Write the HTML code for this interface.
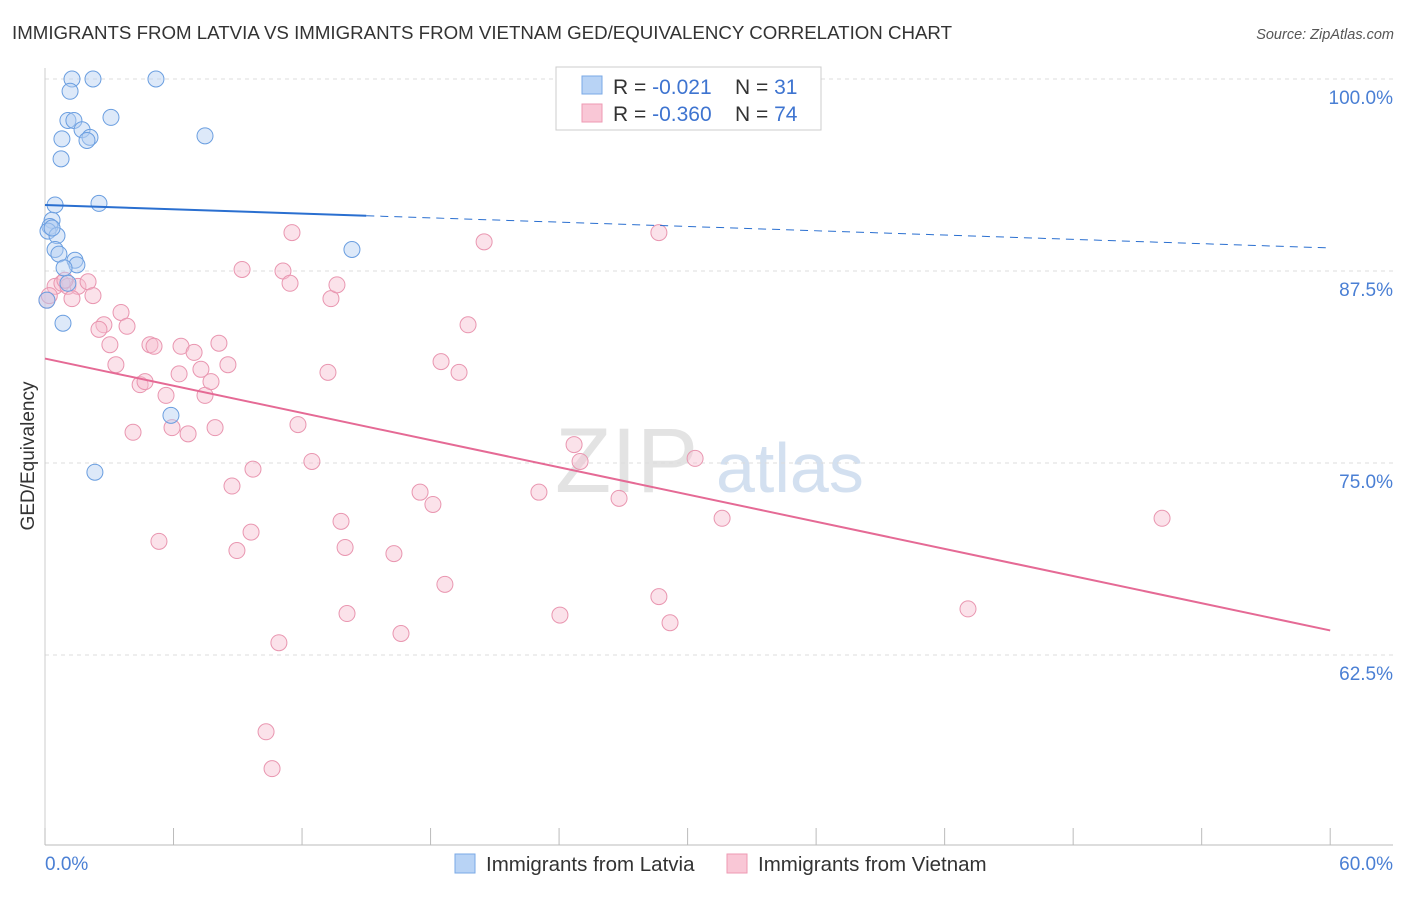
<!DOCTYPE html>
<html><head><meta charset="utf-8"><style>
body{margin:0;background:#fff;font-family:"Liberation Sans",sans-serif;}
svg text{font-family:"Liberation Sans",sans-serif;}
</style></head><body>
<svg id="chart" width="1406" height="892" xmlns="http://www.w3.org/2000/svg">
<text x="12" y="39" font-size="18.7" fill="#333">IMMIGRANTS FROM LATVIA VS IMMIGRANTS FROM VIETNAM GED/EQUIVALENCY CORRELATION CHART</text>
<text x="1394" y="39" font-size="14.5" fill="#555" text-anchor="end" font-style="italic">Source: ZipAtlas.com</text>
<text transform="translate(34,456) rotate(-90)" font-size="19" fill="#333" text-anchor="middle">GED/Equivalency</text>
<g>
<text x="555" y="492" font-size="92" fill="#e3e3e3" font-family="Liberation Serif">ZIP</text>
<text x="716" y="492" font-size="70" fill="#d3e0f0">atlas</text>
</g>
<g id="grid"></g>
<g id="yticks"></g>
<line x1="45" y1="845" x2="1393" y2="845" stroke="#bbb" stroke-width="1"/>
<line x1="45" y1="68" x2="45" y2="845" stroke="#ccc" stroke-width="1"/>
<g id="xticks"></g>
<text x="45" y="870" font-size="19" fill="#4a7fd4">0.0%</text>
<text x="1393" y="870" font-size="19" fill="#4a7fd4" text-anchor="end">60.0%</text>
<g id="points"></g>
<g id="trends"></g>
<g>
<rect x="556" y="67" width="265" height="63" fill="#fff" stroke="#ccc"/>
<rect x="582" y="76" width="20" height="18" fill="#b8d3f5" stroke="#7aa8e6"/>
<rect x="582" y="104" width="20" height="18" fill="#f9c7d6" stroke="#ee9ab3"/>
<text x="613" y="94" font-size="21" fill="#333">R = <tspan fill="#3e74d0">-0.021</tspan></text>
<text x="735" y="94" font-size="21" fill="#333">N = <tspan fill="#3e74d0"> 31</tspan></text>
<text x="613" y="121" font-size="21" fill="#333">R = <tspan fill="#3e74d0">-0.360</tspan></text>
<text x="735" y="121" font-size="21" fill="#333">N = <tspan fill="#3e74d0">74</tspan></text>
</g>
<g>
<rect x="455" y="854" width="20" height="19" fill="#b8d3f5" stroke="#7aa8e6"/>
<text x="486" y="871" font-size="20.5" fill="#333">Immigrants from Latvia</text>
<rect x="727" y="854" width="20" height="19" fill="#f9c7d6" stroke="#ee9ab3"/>
<text x="758" y="871" font-size="20.5" fill="#333">Immigrants from Vietnam</text>
</g>
</svg>
<script>
const latviaX=[1.26,2.24,5.18,1.17,3.08,1.07,1.35,1.73,0.79,2.10,1.96,7.47,0.75,0.47,2.52,0.33,0.23,0.14,0.56,0.47,0.65,14.33,1.40,1.49,0.89,1.07,0.84,5.88,2.33,0.09,0.33];
const latviaY=[100,100,100,99.2,97.5,97.3,97.3,96.7,96.1,96.2,96.0,96.3,94.8,91.8,91.9,90.8,90.4,90.1,89.8,88.9,88.6,88.9,88.2,87.9,87.7,86.7,84.1,78.1,74.4,85.6,90.3];
const vietX=[0.47,0.79,1.07,1.54,2.01,0.93,1.26,2.24,0.09,2.75,2.52,3.55,3.83,3.03,3.31,4.90,5.09,6.35,6.96,8.12,8.54,4.44,4.67,5.65,6.26,7.28,7.47,7.75,4.11,5.93,6.68,7.94,8.73,9.71,5.32,8.96,9.62,10.32,10.60,10.92,11.53,11.11,11.44,11.81,12.46,13.21,13.35,13.63,13.82,14.01,14.10,16.29,16.62,17.51,18.11,18.49,18.67,19.33,19.75,20.50,23.06,24.04,24.70,24.98,26.80,28.66,28.66,29.18,30.35,31.61,43.09,52.15,9.20,0.2];
const vietY=[86.5,86.7,86.5,86.5,86.8,86.9,85.7,85.9,85.6,84.0,83.7,84.8,83.9,82.7,81.4,82.7,82.6,82.6,82.2,82.8,81.4,80.1,80.3,79.4,80.8,81.1,79.4,80.3,77.0,77.3,76.9,77.3,73.5,74.6,69.9,69.3,70.5,57.5,55.1,63.3,90.0,87.5,86.7,77.5,75.1,80.9,85.7,86.6,71.2,69.5,65.2,69.1,63.9,73.1,72.3,81.6,67.1,80.9,84.0,89.4,73.1,65.1,76.2,75.1,72.7,90.0,66.3,64.6,75.3,71.4,65.5,71.4,87.6,85.9];
const yTicks=[100,87.5,75,62.5];
const yTickLabels=["100.0%","87.5%","75.0%","62.5%"];
const xTicks=[0,6,12,18,24,30,36,42,48,54,60];
const latviaTrend=[91.8,89.0];
const vietTrend=[81.8,64.1];
const NS="http://www.w3.org/2000/svg";
const sx=v=>45+v*21.42;
const sy=v=>79+(100-v)*15.36;
function mk(tag,attrs,parent){const e=document.createElementNS(NS,tag);for(const k in attrs)e.setAttribute(k,attrs[k]);parent.appendChild(e);return e;}
const grid=document.getElementById('grid'),yt=document.getElementById('yticks'),xt=document.getElementById('xticks'),pts=document.getElementById('points'),tr=document.getElementById('trends');
yTicks.forEach((v,i)=>{
 const l=mk('line',{x1:45,x2:1393,y1:sy(v),y2:sy(v),stroke:'#ddd','stroke-dasharray':'4,4'},grid);
 
 
 const t=mk('text',{x:1393,y:sy(v)+25,'font-size':19,fill:'#4a7fd4','text-anchor':'end'},yt);
 t.textContent=yTickLabels[i];
 
 
});
xTicks.forEach(v=>{
 const l=mk('line',{x1:sx(v),x2:sx(v),y1:828,y2:845,stroke:'#bbb'},xt);
 
 
});
function dots(X,Y,fill,stroke,name){X.forEach((x,i)=>{
 const c=mk('circle',{cx:sx(x),cy:sy(Y[i]),r:8,fill:fill,'fill-opacity':0.45,stroke:stroke,'stroke-width':1},pts);
 
 
});}
dots(vietX,vietY,'#f6bfd0','#e996b0','vietnam-point');
dots(latviaX,latviaY,'#b3cff2','#6a9ee0','latvia-point');
const lb=v=>latviaTrend[0]+(latviaTrend[1]-latviaTrend[0])*v/60;
let a=mk('line',{x1:sx(0),y1:sy(lb(0)),x2:sx(15),y2:sy(lb(15)),stroke:'#2a6fd0','stroke-width':2},tr);


a=mk('line',{x1:sx(15),y1:sy(lb(15)),x2:sx(60),y2:sy(lb(60)),stroke:'#2a6fd0','stroke-width':1,'stroke-dasharray':'8,6'},tr);


a=mk('line',{x1:sx(0),y1:sy(vietTrend[0]),x2:sx(60),y2:sy(vietTrend[1]),stroke:'#e56a95','stroke-width':2},tr);


</script>
</body></html>
